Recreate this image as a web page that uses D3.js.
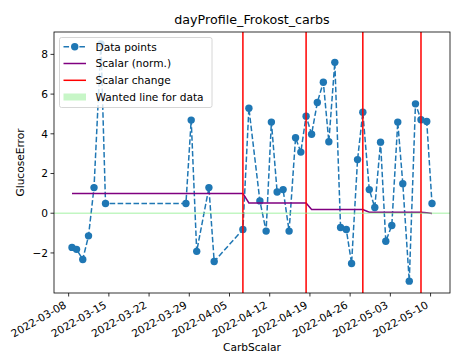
<!DOCTYPE html>
<html><head><meta charset="utf-8">
<script src="https://cdn.jsdelivr.net/npm/d3@7"></script>
<style>
body{margin:0;background:#fff;}
text{font-family:"DejaVu Sans",sans-serif;fill:#000;}
</style></head>
<body><svg id="c" width="451" height="358"></svg>
<script>
const dates = ["2022-03-08T14:00","2022-03-09T09:00","2022-03-10T11:00","2022-03-11T11:00","2022-03-12T10:00","2022-03-13T15:00","2022-03-14T10:00",
"2022-03-28T10:00","2022-03-29T08:00","2022-03-30T07:00","2022-04-01T10:00","2022-04-02T08:00","2022-04-07T08:00","2022-04-08T09:00",
"2022-04-10T07:00","2022-04-11T09:00","2022-04-12T07:00","2022-04-13T07:00","2022-04-14T08:00","2022-04-15T09:00","2022-04-16T12:00",
"2022-04-17T10:00","2022-04-18T08:00","2022-04-19T07:00","2022-04-20T07:00","2022-04-21T08:00","2022-04-22T07:00","2022-04-23T08:00",
"2022-04-24T08:00","2022-04-25T08:00","2022-04-26T06:00","2022-04-27T07:00","2022-04-28T05:00","2022-04-29T08:00","2022-04-30T07:00",
"2022-05-01T07:00","2022-05-02T05:00","2022-05-03T06:00","2022-05-04T07:00","2022-05-05T04:00","2022-05-06T07:00","2022-05-07T09:00",
"2022-05-08T08:00","2022-05-09T08:00","2022-05-10T06:00"];
const glucoseError = [-1.72,-1.82,-2.33,-1.14,1.29,8.53,0.49,
0.49,4.69,-1.92,1.29,-2.43,-0.82,5.29,
0.62,-0.9,4.59,1.07,1.19,-0.9,3.8,
3.08,4.89,3.98,5.58,6.6,3.6,7.6,
-0.72,-0.82,-2.53,2.7,5.09,1.19,0.29,
3.58,-1.41,-0.62,4.59,1.49,-3.42,5.51,
4.71,4.62,0.49];
const scalarNorm = [1,1,1,1,1,1,1,
1,1,1,1,1,1,0.52,
0.52,0.52,0.52,0.52,0.52,0.52,0.52,
0.52,0.52,0.19,0.19,0.19,0.19,0.19,
0.19,0.19,0.19,0.19,0.19,0.05,0.05,
0.05,0.05,0.05,0.05,0.05,0.05,0.05,
0.05,0.02,-0.01];
const scalarChangeDates = ["2022-04-07T08:00","2022-04-18T08:00","2022-04-28T05:00","2022-05-08T08:00"];
const xTickLabels = ["2022-03-08","2022-03-15","2022-03-22","2022-03-29","2022-04-05","2022-04-12","2022-04-19","2022-04-26","2022-05-03","2022-05-10"];
const yTicks = [-2,0,2,4,6,8];
const wantedValue = 0;
const legendLabels = ["Data points","Scalar (norm.)","Scalar change","Wanted line for data"];

const parse = d3.utcParse("%Y-%m-%dT%H:%M");
const parseDay = d3.utcParse("%Y-%m-%d");
const T = dates.map(parse);
const svg = d3.select("#c");
const L=54, R=450, Tp=32, B=293;
const FS=10.6;

const tExt = d3.extent(T);
const span = tExt[1]-tExt[0];
const x = d3.scaleUtc().domain([new Date(+tExt[0]-0.05*span), new Date(+tExt[1]+0.05*span)]).range([L,R]);
const yAll = glucoseError.concat(scalarNorm);
const [ymn,ymx] = d3.extent(yAll);
const yr = ymx-ymn;
const y = d3.scaleLinear().domain([ymn-0.05*yr, ymx+0.05*yr]).range([B,Tp]);

svg.append("defs").append("clipPath").attr("id","cp").append("rect").attr("x",L).attr("y",Tp).attr("width",R-L).attr("height",B-Tp);
const g = svg.append("g").attr("clip-path","url(#cp)");

const line = d3.line().x((d,i)=>x(T[i])).y(d=>y(d));
g.append("path").attr("d",line(glucoseError)).attr("fill","none").attr("stroke","#1f77b4").attr("stroke-width",1.5).attr("stroke-dasharray","5.55,2.4");
g.selectAll("circle.p").data(glucoseError).enter().append("circle").attr("cx",(d,i)=>x(T[i])).attr("cy",d=>y(d)).attr("r",3.7).attr("fill","#1f77b4");
g.append("path").attr("d",line(scalarNorm)).attr("fill","none").attr("stroke","#800080").attr("stroke-width",1.5);
g.selectAll("line.r").data(scalarChangeDates).enter().append("line").attr("x1",d=>x(parse(d))).attr("x2",d=>x(parse(d))).attr("y1",Tp).attr("y2",B).attr("stroke","#ff0000").attr("stroke-width",1.5);
g.append("line").attr("x1",L).attr("x2",R).attr("y1",y(wantedValue)).attr("y2",y(wantedValue)).attr("stroke","#90ee90").attr("stroke-opacity",0.55).attr("stroke-width",1.5);

svg.append("rect").attr("x",L).attr("y",Tp).attr("width",R-L).attr("height",B-Tp).attr("fill","none").attr("stroke","#000").attr("stroke-width",0.8);

const yg = svg.append("g");
yTicks.forEach(v=>{
  const yy=y(v);
  yg.append("line").attr("x1",L-3.5).attr("x2",L).attr("y1",yy).attr("y2",yy).attr("stroke","#000").attr("stroke-width",0.8);
  yg.append("text").attr("x",L-6).attr("y",yy).attr("dy","0.36em").attr("text-anchor","end").attr("font-size",FS).text(String(v).replace("-","\u2212"));
});
xTickLabels.forEach(s=>{
  const xx=x(parseDay(s));
  svg.append("line").attr("x1",xx).attr("x2",xx).attr("y1",B).attr("y2",B+3.5).attr("stroke","#000").attr("stroke-width",0.8);
  svg.append("text").attr("transform",`translate(${xx-1.5},${B+14}) rotate(-30)`).attr("text-anchor","end").attr("font-size",FS).text(s);
});

svg.append("text").attr("x",(L+R)/2).attr("y",24).attr("text-anchor","middle").attr("font-size",12.7).text("dayProfile_Frokost_carbs");
svg.append("text").attr("x",(L+R)/2).attr("y",351).attr("text-anchor","middle").attr("font-size",FS).text("CarbScalar");
svg.append("text").attr("transform",`translate(24,${(Tp+B)/2}) rotate(-90)`).attr("text-anchor","middle").attr("font-size",FS).text("GlucoseError");

const lg = svg.append("g");
lg.append("rect").attr("x",59.5).attr("y",37.5).attr("width",152.5).attr("height",70).attr("rx",2).attr("fill","#fff").attr("fill-opacity",0.8).attr("stroke","#cccccc").attr("stroke-width",0.8);
const rows=[46.7,63.5,80.3,97];
const hx0=63.5, hx1=86;
lg.append("line").attr("x1",hx0).attr("x2",hx1).attr("y1",rows[0]).attr("y2",rows[0]).attr("stroke","#1f77b4").attr("stroke-width",1.5).attr("stroke-dasharray","5.55,2.4");
lg.append("circle").attr("cx",(hx0+hx1)/2).attr("cy",rows[0]).attr("r",3.7).attr("fill","#1f77b4");
lg.append("line").attr("x1",hx0).attr("x2",hx1).attr("y1",rows[1]).attr("y2",rows[1]).attr("stroke","#800080").attr("stroke-width",1.5);
lg.append("line").attr("x1",hx0).attr("x2",hx1).attr("y1",rows[2]).attr("y2",rows[2]).attr("stroke","#ff0000").attr("stroke-width",1.5);
lg.append("rect").attr("x",hx0).attr("y",rows[3]-3.5).attr("width",hx1-hx0).attr("height",7).attr("fill","#90ee90").attr("fill-opacity",0.5);
legendLabels.forEach((t,i)=>lg.append("text").attr("x",95.5).attr("y",rows[i]).attr("dy","0.36em").attr("font-size",FS).text(t));
</script></body></html>
